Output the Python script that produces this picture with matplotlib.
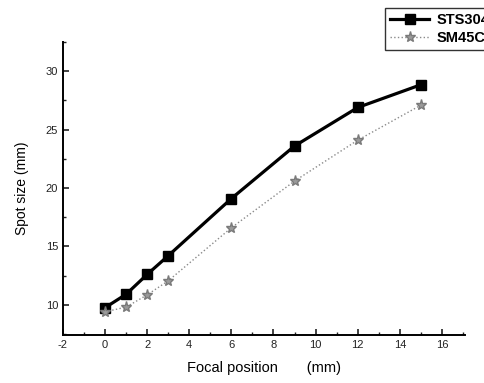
import matplotlib
matplotlib.use('Agg')
from matplotlib import pyplot as plt
from matplotlib.ticker import MultipleLocator

# Focal position (mm)
focal = [0, 1, 2, 3, 6, 9, 12, 15]

# Spot size (mm)
sts304 = [9.75, 10.9, 12.6, 14.2, 19.1, 23.6, 26.9, 28.85]
sm45c = [9.4, 9.8, 10.85, 12.05, 16.6, 20.6, 24.1, 27.1]

x_ticks = [-2, 0, 2, 4, 6, 8, 10, 12, 14, 16]
y_ticks = [10, 15, 20, 25, 30]

plt.rcParams['font.family'] = ['Liberation Sans', 'DejaVu Sans']
plt.rcParams['axes.unicode_minus'] = False

fig = plt.figure(figsize=(4.84, 3.83), dpi=100)
ax = fig.add_axes([0.130, 0.125, 0.831, 0.765])

ax.plot(focal, sts304, color='black', linewidth=2.3, marker='s',
        markersize=7, label='STS304')
ax.plot(focal, sm45c, color='#8a8a8a', linewidth=1.0, linestyle=':',
        marker='*', markersize=8, markerfacecolor='#9a9a9a',
        markeredgecolor='#7a7a7a', label='SM45C')

ax.set_xlim(-2, 17.1)
ax.set_ylim(7.4, 32.5)
ax.set_xticks(x_ticks)
ax.set_yticks(y_ticks)
ax.xaxis.set_minor_locator(MultipleLocator(1))
ax.yaxis.set_minor_locator(MultipleLocator(2.5))
ax.tick_params(which='both', direction='in', labelsize=8, colors='#222222')
ax.tick_params(which='major', length=4, width=1.2)
ax.tick_params(which='minor', length=2, width=1.0)

for side in ['top', 'right']:
    ax.spines[side].set_visible(False)
for side in ['left', 'bottom']:
    ax.spines[side].set_linewidth(1.4)

ax.set_ylabel('Spot size (mm)', fontsize=10, labelpad=12)
ax.set_xlabel('Focal position       (mm)', fontsize=10.5, labelpad=8)

leg = ax.legend(loc='upper left', bbox_to_anchor=(385 / 484, 1 - 8 / 383),
                bbox_transform=fig.transFigure, frameon=True, fancybox=False,
                edgecolor='black', fontsize=10.5, handlelength=2.7,
                borderpad=0.35, labelspacing=0.25, handletextpad=0.5,
                borderaxespad=0)
for t in leg.get_texts():
    t.set_fontweight('bold')

fig.savefig('out.png', dpi=100)
